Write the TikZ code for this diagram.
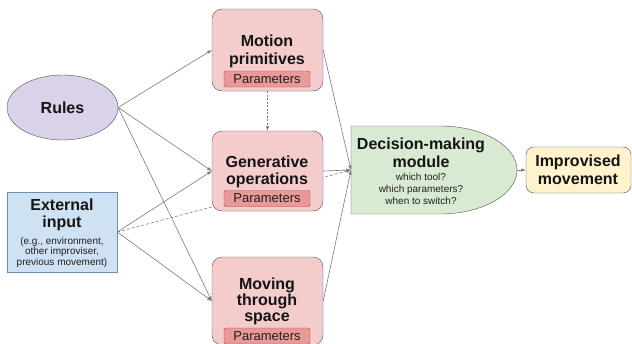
\documentclass[tikz,border=0pt]{standalone}
\usepackage{fontspec}
\setmainfont{Liberation Sans}
\usetikzlibrary{shapes.geometric,arrows.meta,backgrounds}

\definecolor{rulefill}{HTML}{D9D2E9}
\definecolor{toolfill}{HTML}{F4CCCC}
\definecolor{parfill}{HTML}{EA9999}
\definecolor{pardraw}{HTML}{A94442}
\definecolor{extfill}{HTML}{CFE2F3}
\definecolor{extdraw}{HTML}{6C8EB0}
\definecolor{decfill}{HTML}{D9EAD3}
\definecolor{outfill}{HTML}{FFF2CC}
\definecolor{edgegray}{HTML}{7A7A7A}
\definecolor{linegray}{HTML}{505050}

\tikzset{
  big/.style={font=\fontsize{16}{17.5}\selectfont\bfseries, align=center, inner sep=0pt, text=black!92},
  small/.style={font=\fontsize{10}{11}\selectfont, align=center, inner sep=0pt, text=black!88},
  tool/.style={draw=linegray, fill=toolfill, rounded corners=10pt, minimum width=111pt, inner sep=0pt},
  par/.style={draw=pardraw, fill=parfill, rounded corners=1.5pt, minimum width=86pt, minimum height=16pt, inner sep=0pt, font=\fontsize{13}{14}\selectfont, text=black!88},
  conn/.style={draw=edgegray, line width=0.6pt, -{Latex[length=4.5pt,width=3.5pt]}},
  dashconn/.style={conn, dash pattern=on 3pt off 2pt},
}

\begin{document}
\begin{tikzpicture}[x=1pt, y=-1pt]
  \path[use as bounding box, clip] (0,0) rectangle (632,343);

  \node[ellipse, draw=linegray, fill=rulefill, minimum width=111pt, minimum height=65pt, big] (rules) at (62.5,107.5) {Rules};

  \node[draw=extdraw, fill=extfill, minimum width=110pt, minimum height=80pt] (ext) at (62,232) {};
  \node[big] (exttxt) at (62,215) {External\\input};
  \node[small, font=\fontsize{10}{10.5}\selectfont] (extnote) at (62,252) {(e.g., environment,\\other improviser,\\previous movement)};

  \node[tool, minimum height=82pt] (motion) at (267.5,50) {};
  \node[big] (motiontxt) at (267,51.5) {Motion\\primitives};
  \node[par] (motionpar) at (267,79) {Parameters};

  \node[tool, minimum height=80pt] (gen) at (267.5,171) {};
  \node[big] (gentxt) at (267,172) {Generative\\operations};
  \node[par] (genpar) at (267,198.5) {Parameters};

  \node[tool, minimum height=88pt] (space) at (267.5,301) {};
  \node[big, font=\fontsize{16}{16}\selectfont\bfseries] (spacetxt) at (267,301) {Moving\\through\\space};
  \node[par] (spacepar) at (267,336) {Parameters};

  % decision module
  \draw[draw=linegray, fill=decfill] (351,126) -- (440,126)
    .. controls (482.5,126) and (517,145.7) .. (517,170)
    .. controls (517,194.3) and (482.5,214) .. (440,214) -- (351,214) -- cycle;
  \coordinate (decin) at (351,170);
  \coordinate (decout) at (517,170);
  \node[big] (dectxt) at (421,153) {Decision-making\\module};
  \node[small, font=\fontsize{10}{12}\selectfont] (decnote) at (421,188.5) {which tool?\\which parameters?\\when to switch?};

  \node[draw=linegray, fill=outfill, rounded corners=8pt, minimum width=105pt, minimum height=46pt] (out) at (578.5,170) {};
  \node[big] (outtxt) at (578,170) {Improvised\\movement};

  \begin{pgfonlayer}{background}
    \draw[dashconn] (ext.east) -- (decin);
  \end{pgfonlayer}

  \draw[conn] (rules.east) -- (motion.west);
  \draw[conn] (rules.east) -- (gen.west);
  \draw[conn] (rules.east) -- (space.west);
  \draw[conn] (ext.east) -- (gen.west);
  \draw[conn] (ext.east) -- (space.west);
  \draw[conn, dash pattern=on 2pt off 1.5pt] (motion.south) -- (gen.north);
  \draw[conn] (motion.east) -- (decin);
  \draw[conn] (gen.east) -- (decin);
  \draw[conn] (space.east) -- (decin);
  \draw[conn] (decout) -- (out.west);
\end{tikzpicture}
\end{document}
